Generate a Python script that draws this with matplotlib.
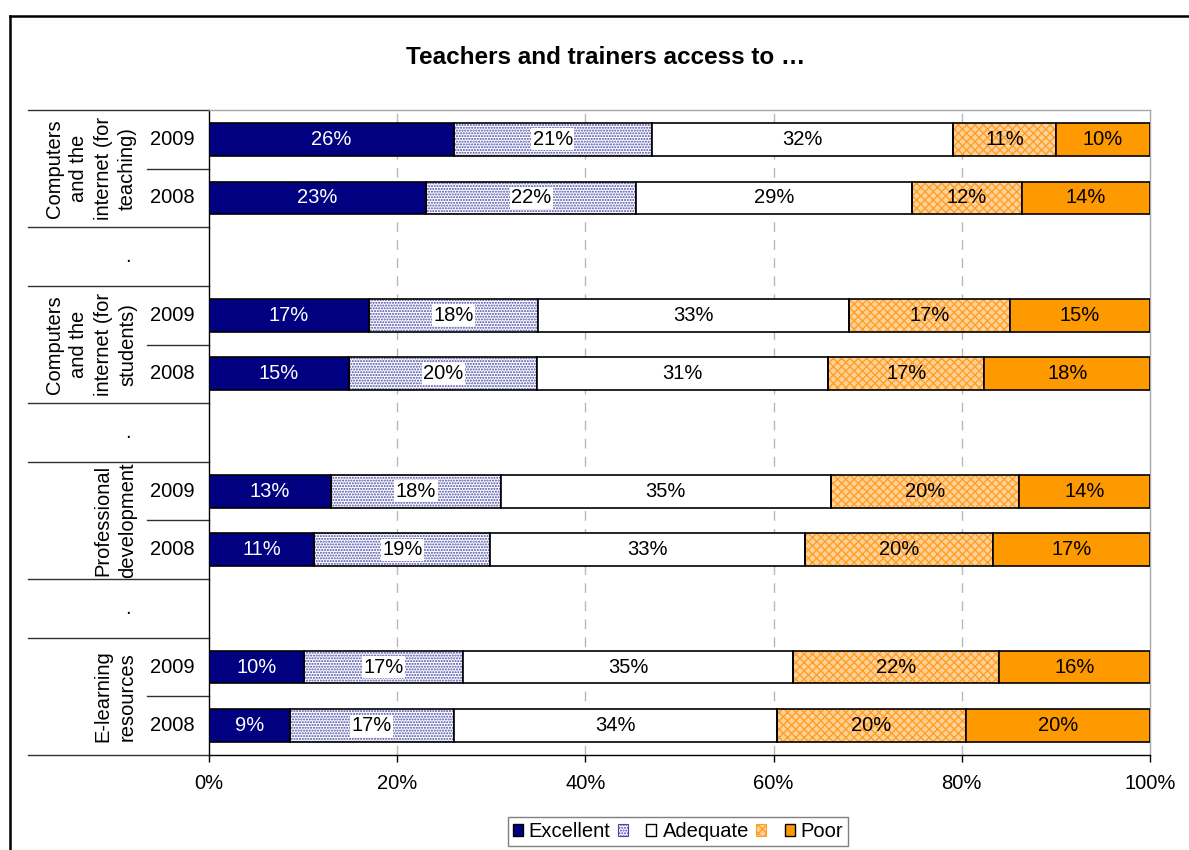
import matplotlib
matplotlib.use("Agg")
import matplotlib.pyplot as plt
from matplotlib.patches import Patch
from matplotlib.lines import Line2D
from matplotlib.transforms import blended_transform_factory

plt.rcParams['font.family'] = ['Liberation Sans', 'DejaVu Sans']
plt.rcParams['hatch.linewidth'] = 1.0

# ---- data -------------------------------------------------------------
title = "Teachers and trainers access to \u2026"
groups = ["Computers\nand the\ninternet (for\nteaching)",
          "Computers\nand the\ninternet (for\nstudents)",
          "Professional\ndevelopment",
          "E-learning\nresources"]
years = ["2009", "2008"]
series_names = ["Excellent", " ", "Adequate", " ", "Poor"]

# rows: each group 2009 then 2008
excellent = [26.0, 23.1, 17.0, 14.9, 13.0, 11.2, 10.1, 8.6]
good      = [21.1, 22.3, 18.0, 20.0, 18.0, 18.7, 16.9, 17.4]
adequate  = [32.0, 29.3, 33.0, 30.9, 35.1, 33.4, 35.1, 34.4]
fair      = [10.9, 11.7, 17.1, 16.6, 20.0, 20.0, 21.9, 20.0]
poor      = [10.0, 13.6, 14.9, 17.6, 13.9, 16.7, 16.0, 19.6]

xticks = [0, 20, 40, 60, 80, 100]

# ---- styles -----------------------------------------------------------
NAVY = "#000080"
ORANGE = "#FF9900"
FS = 14.5
styles = [
    dict(facecolor=NAVY, hatch=None, hatchcolor=None, text="white", box=False),
    dict(facecolor="white", hatch="......", hatchcolor="#4848A8", text="black", box=True),
    dict(facecolor="white", hatch=None, hatchcolor=None, text="black", box=False),
    dict(facecolor="#FFD29A", hatch="xxxx", hatchcolor="#FF9F26", text="black", box=False),
    dict(facecolor=ORANGE, hatch=None, hatchcolor=None, text="black", box=False),
]
series = [excellent, good, adequate, fair, poor]

W, H = 1189, 850
fig = plt.figure(figsize=(W / 100, H / 100), dpi=100)
ax_top, ax_bot, ax_l, ax_r = 110, 755, 209, 1150
ax = fig.add_axes([ax_l / W, 1 - ax_bot / H, (ax_r - ax_l) / W, (ax_bot - ax_top) / H])

n_slots = 3 * len(groups) - 1
row_pos = []
for g in range(len(groups)):
    row_pos += [3 * g, 3 * g + 1]
spacer_pos = [3 * g + 2 for g in range(len(groups) - 1)]

bar_h = 0.56
left = [0.0] * len(row_pos)
for vals, st in zip(series, styles):
    if st["hatch"]:
        ax.barh(row_pos, vals, left=left, height=bar_h, color=st["facecolor"],
                edgecolor=st["hatchcolor"], hatch=st["hatch"], linewidth=0, zorder=2)
        ax.barh(row_pos, vals, left=left, height=bar_h, fill=False,
                edgecolor="black", linewidth=1.2, zorder=3)
    else:
        ax.barh(row_pos, vals, left=left, height=bar_h, color=st["facecolor"],
                edgecolor="black", linewidth=1.2, zorder=3)
    for y, l, v in zip(row_pos, left, vals):
        kw = {}
        if st["box"]:
            kw["bbox"] = dict(facecolor="white", edgecolor="none", pad=1.0)
        ax.text(l + v / 2, y, f"{v:.0f}%", ha="center", va="center",
                color=st["text"], fontsize=FS, zorder=5, **kw)
    left = [a + b for a, b in zip(left, vals)]

ax.set_xlim(0, 100)
ax.set_ylim(n_slots - 0.5, -0.5)
ax.set_xticks(xticks)
ax.set_xticklabels([f"{t}%" for t in xticks], fontsize=FS)
ax.tick_params(axis="x", length=5, width=1, pad=9, direction="out")
ax.set_yticks([])
for t in xticks[1:-1]:
    ax.axvline(t, color="#B8B8B8", linewidth=1, linestyle=(0, (7, 6)), zorder=1)

for side in ["top", "right"]:
    ax.spines[side].set_color("#A8A8A8")
    ax.spines[side].set_linewidth(1)
for side in ["left", "bottom"]:
    ax.spines[side].set_color("black")
    ax.spines[side].set_linewidth(1)

# ---- two-level category axis on the left -----------------------------
tr = blended_transform_factory(fig.transFigure, ax.transData)
line_kw = dict(transform=tr, color="#303030", linewidth=1, clip_on=False)
x_outer = 28 / W
x_inner = 147 / W
x_axis = ax_l / W
for b in [-0.5] + [3 * g + 1.5 for g in range(len(groups) - 1)] + \
         [3 * g + 2.5 for g in range(len(groups) - 1)] + [n_slots - 0.5]:
    ax.add_line(Line2D([x_outer, x_axis], [b, b], **line_kw))
for g in range(len(groups)):
    b = 3 * g + 0.5
    ax.add_line(Line2D([x_inner, x_axis], [b, b], **line_kw))

for g, name in enumerate(groups):
    ax.text(137 / W, 3 * g + 0.5, name, transform=tr, rotation=90,
            ha="right", va="center", multialignment="center",
            fontsize=FS, linespacing=1.35)
    for k, yr in enumerate(years):
        ax.text(172 / W, 3 * g + k, yr, transform=tr, ha="center",
                va="center", fontsize=FS)
for p in spacer_pos:
    ax.text(128 / W, p, ".", transform=tr, ha="center", va="center",
            fontsize=FS)

# ---- title, legend, outer frame --------------------------------------
fig.text(606 / W, 1 - 57 / H, title, ha="center", va="center",
         fontsize=17.5, fontweight="bold")

handles = []
for st in styles:
    if st["hatch"]:
        handles.append(Patch(facecolor=st["facecolor"], edgecolor=st["hatchcolor"],
                             hatch=st["hatch"], linewidth=0.8))
    else:
        handles.append(Patch(facecolor=st["facecolor"], edgecolor="black",
                             linewidth=1))
leg = fig.legend(handles, series_names, loc="upper center",
                 bbox_to_anchor=(678 / W, 1 - 817 / H), ncol=5,
                 fontsize=FS, frameon=True, fancybox=False,
                 edgecolor="#606060", handlelength=0.5, handleheight=0.5,
                 handletextpad=0.3, columnspacing=0.35, borderpad=0.25,
                 borderaxespad=0)
leg.get_frame().set_linewidth(1)

fig.add_artist(Line2D([10 / W, 10 / W], [-0.1, 1 - 16 / H],
                      transform=fig.transFigure, color="black", linewidth=1.8))
fig.add_artist(Line2D([10 / W, 1.1], [1 - 16 / H, 1 - 16 / H],
                      transform=fig.transFigure, color="black", linewidth=1.8))

fig.savefig("out.png", dpi=100, facecolor="white")
